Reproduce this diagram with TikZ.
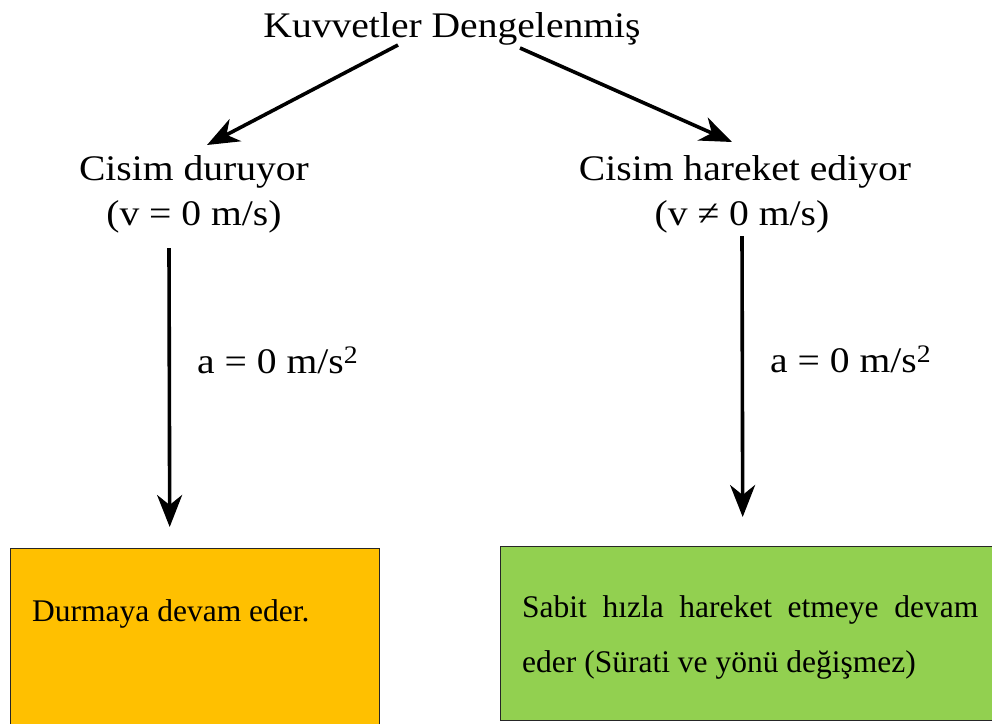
\documentclass[tikz,border=0pt]{standalone}
\usepackage{fontspec}
\setmainfont{Liberation Serif}
\newfontfamily\widefont{Liberation Serif}[FakeStretch=1.1]
\usetikzlibrary{arrows.meta,calc}
\definecolor{boxgold}{HTML}{FFC000}
\definecolor{boxgreen}{HTML}{92D050}
\begin{document}
\begin{tikzpicture}[x=1pt,y=-1pt,
  lbl/.style={font=\widefont\fontsize{36}{45}\selectfont, inner sep=0pt, anchor=base},
  boxtxt/.style={font=\fontsize{31.5}{55}\selectfont, inner sep=0pt, anchor=base west},
  conn/.style={line width=3.6pt, -{Stealth[length=32pt,width=25pt,inset=10pt]}},
  panel/.style={draw=black!85, line width=1.4pt, inner sep=0pt, anchor=north west}]
\useasboundingbox (0,0) rectangle (992,723);
\fill[white] (0,0) rectangle (992,723);

% headings
\node[lbl] (title) at (452,37) {Kuvvetler Dengelenmiş};
\node[lbl] (lhead) at (194,180) {Cisim duruyor};
\node[lbl] (lv) at (194,225) {(v = 0 m/s)};
\node[lbl] (rhead) at (745,180) {Cisim hareket ediyor};
\node[lbl] (rv) at (742,225) {(v ≠ 0 m/s)};

% acceleration labels
\node[lbl, anchor=base west] (la) at (197,373) {a = 0 m/s\textsuperscript{2}};
\node[lbl, anchor=base west] (ra) at (770,372) {a = 0 m/s\textsuperscript{2}};

% result panels (they run past the right and bottom edges of the page)
\begin{scope}
\clip (0,0) rectangle (992,723);
\node[panel, fill=boxgold, minimum width=369pt, minimum height=200pt] (lbox) at (10,548) {};
\node[panel, fill=boxgreen, minimum width=540pt, minimum height=174pt] (rbox) at (500,546) {};
\end{scope}
\node[boxtxt] (ltext) at (32,621) {Durmaya devam eder.};
\node[boxtxt] (rtext1) at (522,617) {\makebox[456pt][s]{Sabit hızla hareket etmeye devam}};
\node[boxtxt] (rtext2) at (522,672) {eder (Sürati ve yönü değişmez)};

% connectors
\draw[conn] ([shift={(-54pt,-8pt)}]title.base) -- ([shift={(13pt,35pt)}]lhead.base);
\draw[conn] ([shift={(68pt,-11pt)}]title.base) -- ([shift={(-13pt,38pt)}]rhead.base);
\draw[conn] ([shift={(-25pt,-23pt)}]lv.base) -- ([shift={(-25.5pt,21pt)}]lbox.north);
\draw[conn] ([shift={(0pt,-11pt)}]rv.base) -- ([shift={(-28pt,29pt)}]rbox.north);
\end{tikzpicture}
\end{document}
